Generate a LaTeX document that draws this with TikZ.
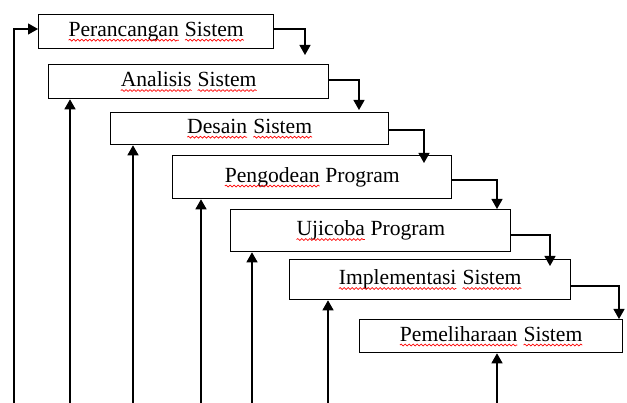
\documentclass[tikz,border=0pt]{standalone}
\usepackage{fontspec}
\setmainfont{Liberation Serif}
\usetikzlibrary{arrows.meta,decorations.pathmorphing}
\newcommand\wavy[1]{\tikz[baseline=(w.base)]{\node[inner sep=0pt,outer sep=0pt,draw=none,minimum width=0pt,minimum height=0pt,anchor=base](w) at (0,0){#1};\draw[red,line width=0.7pt,decorate,decoration={snake,amplitude=0.9pt,segment length=4pt}]([yshift=-4pt]w.base west)--([yshift=-4pt]w.base east);}}
\tikzset{
  stagebox/.style={draw,line width=1.3pt,rectangle,anchor=north west,inner sep=0pt,
    font=\fontsize{21.6}{26}\selectfont},
  fwd/.style={line width=1.3pt,-{Triangle[width=11pt,length=10pt]}},
  back/.style={line width=1.3pt,-{Triangle[width=11pt,length=10pt]}}
}
\begin{document}
\begin{tikzpicture}[x=1pt,y=-1pt]
\useasboundingbox (0,0) rectangle (627,403);
\clip (0,0) rectangle (627,403);
% boxes
\node[stagebox,minimum width=235pt,minimum height=34pt] (b1) at (38,14) {\wavy{Perancangan} \wavy{Sistem}};
\node[stagebox,minimum width=280pt,minimum height=34pt] (b2) at (48,64) {\wavy{Analisis} \wavy{Sistem}};
\node[stagebox,minimum width=278pt,minimum height=32pt] (b3) at (110,112) {\wavy{Desain} \wavy{Sistem}};
\node[stagebox,minimum width=279pt,minimum height=43pt] (b4) at (172,155) {\wavy{Pengodean} Program};
\node[stagebox,minimum width=280pt,minimum height=42pt] (b5) at (230,209) {\wavy{Ujicoba} Program};
\node[stagebox,minimum width=281pt,minimum height=40pt] (b6) at (289,259) {\wavy{Implementasi} \wavy{Sistem}};
\node[stagebox,minimum width=263pt,minimum height=33pt] (b7) at (359,319) {\wavy{Pemeliharaan} \wavy{Sistem}};
% forward arrows
\coordinate (s1) at (0,29);  \coordinate (t1) at (305,55);
\coordinate (s2) at (0,80);  \coordinate (t2) at (359,110);
\coordinate (s3) at (0,130); \coordinate (t3) at (424,163);
\coordinate (s4) at (0,180); \coordinate (t4) at (497,209);
\coordinate (s5) at (0,235); \coordinate (t5) at (550,266);
\coordinate (s6) at (0,286); \coordinate (t6) at (619,319);
\draw[fwd] (b1.east |- s1) -| (t1);
\draw[fwd] (b2.east |- s2) -| (t2);
\draw[fwd] (b3.east |- s3) -| (t3);
\draw[fwd] (b4.east |- s4) -| (t4);
\draw[fwd] (b5.east |- s5) -| (t5);
\draw[fwd] (b6.east |- s6) -| (t6);
% feedback arrows
\coordinate (u1) at (14,410);
\coordinate (u2) at (70,410);
\coordinate (u3) at (133,410);
\coordinate (u4) at (201,410);
\coordinate (u5) at (252,410);
\coordinate (u6) at (328,410);
\coordinate (u7) at (497,410);
\draw[back] (u1) |- (b1.west |- s1);
\draw[back] (u2) -- (u2 |- b2.south);
\draw[back] (u3) -- (u3 |- b3.south);
\draw[back] (u4) -- (u4 |- b4.south);
\draw[back] (u5) -- (u5 |- b5.south);
\draw[back] (u6) -- (u6 |- b6.south);
\draw[back] (u7) -- (u7 |- b7.south);
\end{tikzpicture}
\end{document}
